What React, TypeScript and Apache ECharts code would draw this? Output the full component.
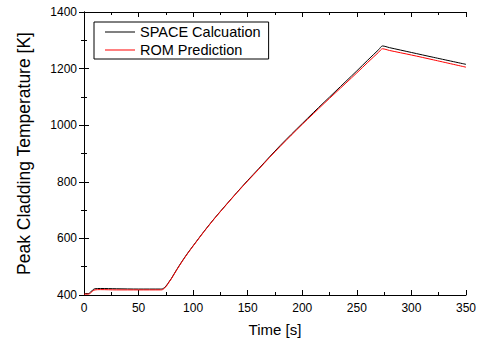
import React, { useEffect, useRef } from "react";
import * as echarts from "echarts";

const times = [0, 4, 6, 8, 10, 15, 30, 50, 70, 72, 74, 76, 78, 80, 85, 90, 95, 100, 110, 120, 130, 140, 150, 160, 170, 180, 190, 200, 210, 220, 230, 240, 250, 260, 270, 273.5, 280, 300, 320, 350];
const spaceValues = [405, 405, 410, 418, 422, 423, 422, 421, 421, 422, 427, 436, 447, 458, 490, 520, 548, 574, 625, 673, 718, 762, 805, 846, 888, 929, 968, 1006, 1044, 1081, 1118, 1155, 1192, 1230, 1267, 1280, 1274, 1257, 1240, 1215];
const romValues = [403, 403, 407, 414, 418, 419, 418, 418, 418, 419, 425, 434, 446, 457, 489, 519, 547, 573, 624, 672, 717, 761, 803, 844, 886, 926, 965, 1003, 1040, 1077, 1113, 1149, 1185, 1222, 1258, 1270, 1264, 1248, 1231, 1205];
const seriesNames = ["SPACE Calcuation", "ROM Prediction"];
const xLabel = "Time [s]";
const yLabel = "Peak Cladding Temperature [K]";

const FONT = "'Liberation Sans', Arial, sans-serif";
const LINE_ICON = "path://M0,0 L30,0 L30,1 L0,1 Z";

export default function App() {
  const ref = useRef<HTMLDivElement>(null);
  useEffect(() => {
    if (!ref.current) return;
    const chart = echarts.init(ref.current, null, { renderer: "svg" });
    const axisCommon = {
      type: "value" as const,
      axisLine: { show: true, lineStyle: { color: "#000", width: 1 } },
      axisTick: { show: true, inside: true, length: 5, lineStyle: { color: "#000" } },
      minorTick: { show: true, splitNumber: 2, length: 3, lineStyle: { color: "#000" } },
      splitLine: { show: false },
      minorSplitLine: { show: false },
    };
    chart.setOption({
      animation: false,
      backgroundColor: "#fff",
      textStyle: { fontFamily: FONT },
      grid: { left: 84, right: 12, top: 12, bottom: 48, containLabel: false },
      legend: {
        orient: "vertical",
        left: 94,
        top: 22,
        data: seriesNames.map((n) => ({ name: n, icon: LINE_ICON })),
        itemWidth: 30,
        itemHeight: 14,
        itemGap: 2,
        padding: [2, 8, 1, 11],
        borderColor: "#000",
        borderWidth: 1,
        textStyle: { fontFamily: FONT, fontSize: 14.5, lineHeight: 16, color: "#000" },
      },
      xAxis: [
        {
          ...axisCommon,
          position: "bottom",
          min: 0,
          max: 350,
          interval: 50,
          name: xLabel,
          nameLocation: "middle",
          nameGap: 27,
          nameTextStyle: { fontFamily: FONT, fontSize: 15, color: "#000" },
          axisLabel: { show: true, margin: 7, fontFamily: FONT, fontSize: 12, color: "#000", formatter: (v: number) => String(v) },
        },
        {
          ...axisCommon,
          position: "top",
          min: 0,
          max: 350,
          interval: 50,
          axisLabel: { show: false },
        },
      ],
      yAxis: [
        {
          ...axisCommon,
          position: "left",
          min: 400,
          max: 1400,
          interval: 200,
          name: yLabel,
          nameLocation: "middle",
          nameGap: 51,
          nameTextStyle: { fontFamily: FONT, fontSize: 17.5, color: "#000" },
          axisLabel: { show: true, margin: 7, fontFamily: FONT, fontSize: 12, color: "#000", formatter: (v: number) => String(v) },
        },
        {
          ...axisCommon,
          position: "right",
          min: 400,
          max: 1400,
          interval: 200,
          axisLabel: { show: false },
        },
      ],
      series: [
        {
          name: seriesNames[0],
          type: "line",
          data: times.map((t, i) => [t, spaceValues[i]]),
          symbol: "none",
          smooth: 0.3,
          lineStyle: { color: "#000", width: 1 },
          itemStyle: { color: "#000" },
        },
        {
          name: seriesNames[1],
          type: "line",
          data: times.map((t, i) => [t, romValues[i]]),
          symbol: "none",
          smooth: 0.3,
          lineStyle: { color: "#ff0000", width: 1 },
          itemStyle: { color: "#ff0000" },
        },
      ],
    });
    return () => chart.dispose();
  }, []);
  return <div ref={ref} style={{ position: "fixed", left: 0, top: 0, width: 479, height: 343 }} />;
}
